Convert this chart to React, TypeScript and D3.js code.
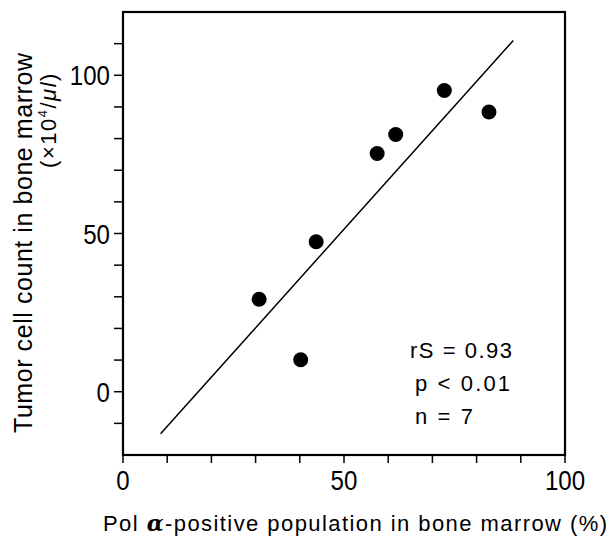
import React from 'react';
import * as d3 from 'd3';

// data
const polAlpha = [30.8, 40.2, 43.7, 57.5, 61.7, 72.7, 82.8];
const tumorCount = [29.2, 10.1, 47.4, 75.3, 81.3, 95.2, 88.4];
const fitSlope = 1.557;
const fitIntercept = -26.5;
const fitRange = [8.5, 88.3];
const xTicks = d3.range(0, 101, 10);
const yTicks = d3.range(-10, 111, 10);
const xLabels = [0, 50, 100];
const yLabels = [0, 50, 100];
const stats = ['rS = 0.93', 'p < 0.01', 'n = 7'];

const W = 613, H = 542;
const frame = { left: 123, right: 565, top: 12, bottom: 455 };
const textFont = '"Liberation Sans", Arial, sans-serif';
// stats line placement/width in px
const statX = [410, 415, 415];
const statLen = [102, 95, 58];

export default function App() {
  const x = d3.scaleLinear().domain([0, 100]).range([frame.left, frame.right]);
  const y = d3.scaleLinear().domain([-20, 120]).range([frame.bottom, frame.top]);

  const fitLine = d3.line<number>()
    .x(d => x(d))
    .y(d => y(fitSlope * d + fitIntercept));

  return (
    <svg width={W} height={H} style={{ position: 'absolute', left: 0, top: 0, background: '#fff' }}>
      <rect x={frame.left} y={frame.top} width={frame.right - frame.left} height={frame.bottom - frame.top}
            fill="none" stroke="#000" strokeWidth={2.2} />

      {xTicks.map(t => (
        <line key={'xt' + t} x1={x(t)} x2={x(t)} y1={frame.bottom} y2={frame.bottom + 8} stroke="#000" strokeWidth={1.5} />
      ))}
      {yTicks.map(t => (
        <line key={'yt' + t} x1={frame.left - 9} x2={frame.left} y1={y(t)} y2={y(t)} stroke="#000" strokeWidth={1.5} />
      ))}

      {xLabels.map(t => (
        <g key={'xl' + t} transform={`translate(${x(t)},490) scale(0.86,1)`}>
          <text textAnchor="middle" fontFamily={textFont} fontSize={28}>{t}</text>
        </g>
      ))}
      {yLabels.map(t => (
        <g key={'yl' + t} transform={`translate(110,${y(t)}) scale(0.86,1)`}>
          <text dy="0.36em" textAnchor="end" fontFamily={textFont} fontSize={28}>{t}</text>
        </g>
      ))}

      <path d={fitLine(fitRange) ?? ''} fill="none" stroke="#000" strokeWidth={1.5} />

      {polAlpha.map((v, i) => (
        <circle key={'pt' + i} cx={x(v)} cy={y(tumorCount[i])} r={7.5} fill="#000" />
      ))}

      {stats.map((s, i) => (
        <text key={'st' + i} x={statX[i]} y={358 + i * 33} fontFamily={textFont} fontSize={22}
              textLength={statLen[i]} lengthAdjust="spacing">{s}</text>
      ))}

      <text x={103} y={531} fontFamily={textFont} fontSize={22} textLength={504} lengthAdjust="spacing">
        Pol <tspan fontWeight="bold" fontStyle="italic" fontFamily='"DejaVu Serif", serif'>α</tspan>-positive population in bone marrow (%)
      </text>

      <text transform="translate(32,243) rotate(-90)" textAnchor="middle" fontFamily={textFont} fontSize={25}
            textLength={380} lengthAdjust="spacing">
        Tumor cell count in bone marrow
      </text>
      <text transform="translate(56,120) rotate(-90)" textAnchor="middle" fontFamily={textFont} fontSize={22}
            letterSpacing={1.5}>
        (×10<tspan fontSize={13} dy={-9}>4</tspan><tspan dy={9}>/</tspan><tspan fontStyle="italic">μl</tspan>)
      </text>
    </svg>
  );
}
